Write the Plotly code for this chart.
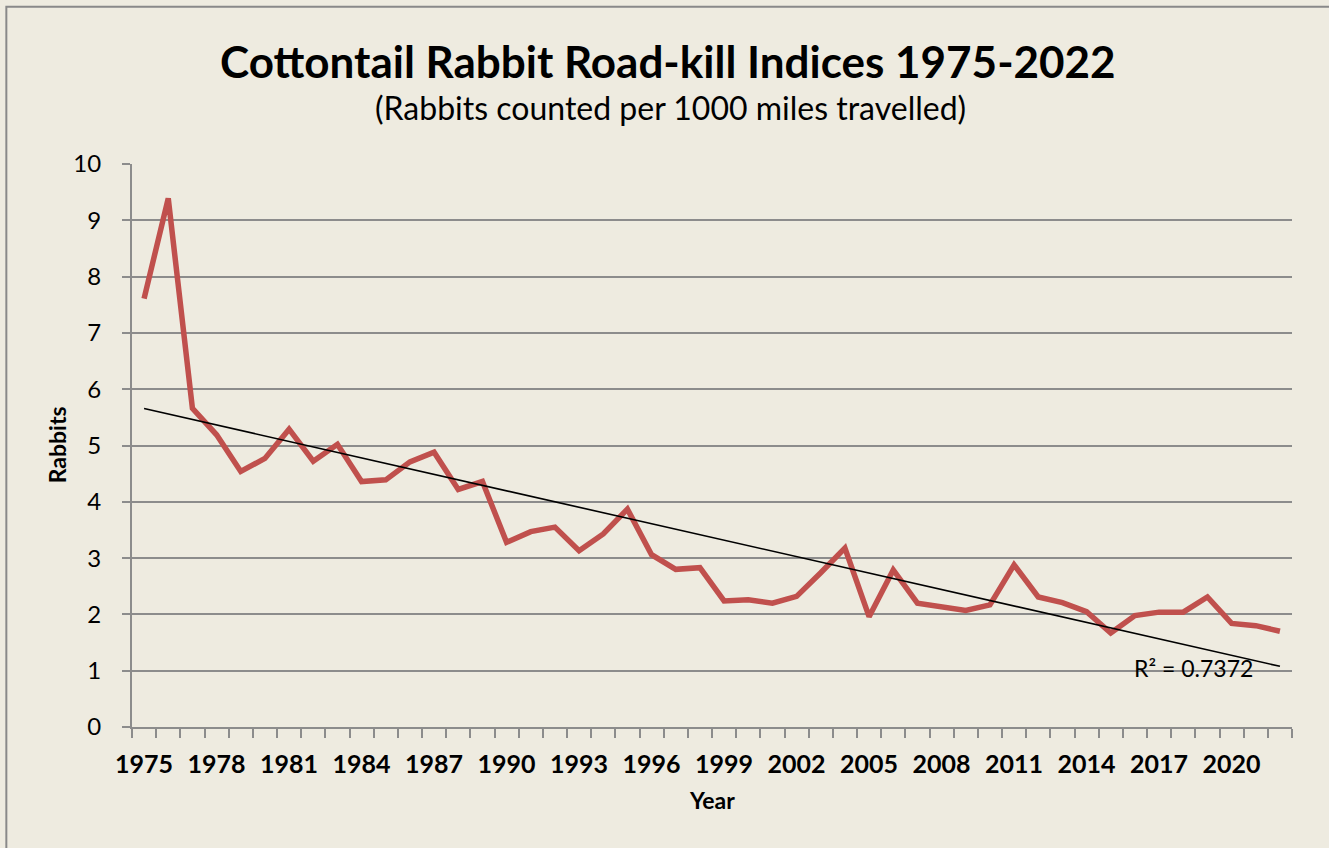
import numpy as np
import plotly.graph_objects as go

years = list(range(1975, 2023))
rabbits = [7.61, 9.39, 5.66, 5.19, 4.54, 4.77, 5.29, 4.72, 5.02, 4.36,
           4.39, 4.71, 4.88, 4.22, 4.36, 3.28, 3.47, 3.55, 3.13, 3.43,
           3.87, 3.06, 2.80, 2.83, 2.24, 2.26, 2.20, 2.32, 2.74, 3.18,
           1.96, 2.79, 2.20, 2.13, 2.07, 2.17, 2.88, 2.31, 2.21, 2.05,
           1.67, 1.98, 2.04, 2.04, 2.31, 1.84, 1.80, 1.70]
label_years = list(range(1975, 2021, 3))
y_ticks = list(range(0, 11))
r2_text = "R² = 0.7372"

W, H = 1329, 848
L, R, T, B = 131.7, 1292.0, 163.5, 727.5
BG = "#EEEBE0"
GRID = "#8C8C8C"
FONT = "Lato"

def px(p):
    return (p - L) / (R - L)

def py(p):
    return (B - p) / (B - T)

coef = np.polyfit(years, rabbits, 1)
trend = np.polyval(coef, years)

fig = go.Figure()
fig.add_trace(go.Scatter(x=years, y=rabbits, mode="lines",
                         line=dict(color="#C0504D", width=5.5),
                         showlegend=False, hoverinfo="x+y"))
fig.add_trace(go.Scatter(x=years, y=trend, mode="lines",
                         line=dict(color="#000000", width=1.6),
                         showlegend=False, hoverinfo="skip"))

fig.update_layout(
    width=W, height=H,
    margin=dict(l=L, r=W - R, t=T, b=H - B, pad=0),
    paper_bgcolor=BG, plot_bgcolor=BG,
    font=dict(family=FONT, color="#000000"),
    xaxis=dict(range=[1974.5, 2022.5], tickvals=label_years,
               ticktext=[str(y) for y in label_years],
               ticks="", showgrid=False, zeroline=False,
               showline=True, linecolor=GRID, linewidth=2,
               tickfont=dict(family=FONT, size=25, color="#000", weight="bold"),
               ticklabelstandoff=14,
               minor=dict(ticks="outside", tick0=1974.5, dtick=1,
                          ticklen=9, tickwidth=2, tickcolor=GRID,
                          showgrid=False)),
    yaxis=dict(range=[0, 10], tickvals=y_ticks, ticks="outside",
               ticklen=8, tickwidth=2, tickcolor=GRID,
               showgrid=True, gridcolor=GRID, gridwidth=2,
               zeroline=False, showline=True, linecolor=GRID, linewidth=2,
               tickfont=dict(family=FONT, size=24, color="#000"),
               ticklabelstandoff=16),
    shapes=[dict(type="rect", xref="paper", yref="paper",
                 x0=px(6), x1=px(1345), y0=py(6), y1=py(870),
                 line=dict(color="#898989", width=2), layer="below")],
)

annotations = [
    dict(text="<b>Cottontail Rabbit Road-kill Indices 1975-2022</b>",
         x=px(668), y=py(60), font=dict(size=44)),
    dict(text="(Rabbits counted per 1000 miles travelled)",
         x=px(670), y=py(107), font=dict(size=32)),
    dict(text="<b>Year</b>", x=px(712), y=py(801), font=dict(size=23)),
    dict(text="<b>Rabbits</b>", x=px(57), y=py(445), font=dict(size=23),
         textangle=-90),
    dict(text=r2_text, x=px(1193), y=py(668), font=dict(size=23)),
]
for a in annotations:
    a.update(xref="paper", yref="paper", showarrow=False,
             xanchor="center", yanchor="middle")
    a["font"].update(family=FONT, color="#000000")
fig.update_layout(annotations=annotations)

fig.write_html("out.html", config={"displayModeBar": False},
               post_script="document.body.style.margin='0px';")
